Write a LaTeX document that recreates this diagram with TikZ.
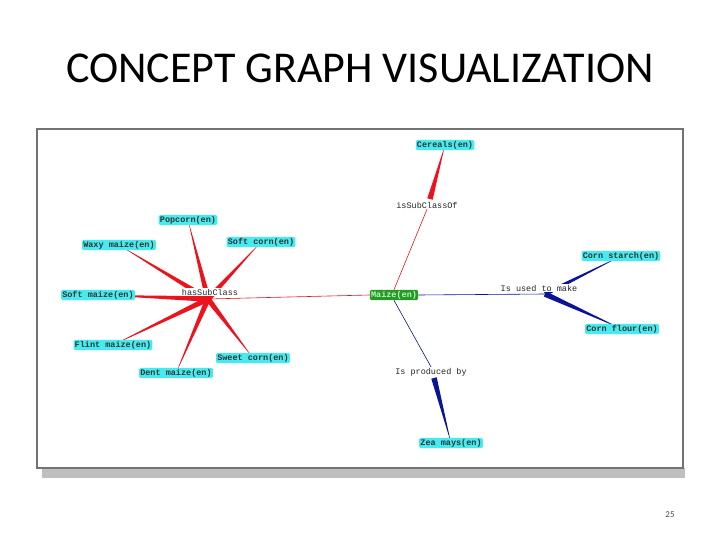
\documentclass[tikz,border=0pt]{standalone}
\usepackage{fontspec}
\setmainfont{Carlito}
\newfontfamily\monof{Liberation Mono}
\usetikzlibrary{calc,backgrounds}
\definecolor{leafc}{RGB}{70,235,240}
\definecolor{redc}{RGB}{235,20,30}
\definecolor{bluec}{RGB}{10,20,150}
\definecolor{maizec}{RGB}{40,150,40}
\newcommand\tapered[4]{\fill[#3] ($(#1.center)!#4!90:(#2.center)$) -- ($(#1.center)!#4!-90:(#2.center)$) -- (#2.center) -- cycle;}
\begin{document}
\begin{tikzpicture}[x=1pt,y=-1pt,
  leaf/.style={fill=leafc,rounded corners=1.5pt,inner sep=1.2pt,font=\monof\bfseries\fontsize{8.5}{9}\selectfont,text=black!80},
  rel/.style={fill=white,inner sep=1pt,font=\monof\fontsize{8.5}{10}\selectfont,text=black!85},
  thin/.style={line width=0.6pt}]
\useasboundingbox (0,0) rectangle (720,540);
\node[font=\fontsize{44}{48}\selectfont] (title) at (360,68) {CONCEPT GRAPH VISUALIZATION};
\node[font=\fontsize{9}{10}\selectfont,text=black!70] (pg) at (670,515) {25};

\node[fill=maizec,rounded corners=1.5pt,inner sep=1.2pt,font=\monof\bfseries\fontsize{8.5}{9}\selectfont,text=green!30] (maize) at (394,295) {Maize(en)};
\node[rel] (hsc) at (210,292) {hasSubClass};
\node[rel] (isc) at (427,205) {isSubClassOf};
\node[rel] (used) at (539,288) {Is used to make};
\node[rel] (prod) at (431,372) {Is produced by};
\node[leaf] (cer) at (445,145) {Cereals(en)};
\node[leaf] (cstarch) at (621,256) {Corn starch(en)};
\node[leaf] (cflour) at (622,329) {Corn flour(en)};
\node[leaf] (zea) at (451,443) {Zea mays(en)};
\node[leaf] (pop) at (188,220) {Popcorn(en)};
\node[leaf] (waxy) at (119,245) {Waxy maize(en)};
\node[leaf] (scorn) at (261,242) {Soft corn(en)};
\node[leaf] (smaize) at (98,295) {Soft maize(en)};
\node[leaf] (flint) at (113,345) {Flint maize(en)};
\node[leaf] (sweet) at (253,358) {Sweet corn(en)};
\node[leaf] (dent) at (176,373) {Dent maize(en)};
\coordinate (hub) at (208,299);
\coordinate (ihub) at (430,199);
\coordinate (uhub) at (545,294);
\coordinate (phub) at (434,378);

\begin{scope}[on background layer]
\fill[black!25] (42,468) rectangle (685,478);
\draw[black!55,line width=2pt,fill=white] (37,129) rectangle (683,468);
\draw[redc,thin] (maize.west) -- (hub);
\draw[redc,thin] (maize.north) -- (isc.south);
\draw[bluec,thin] (maize.east) -- (uhub);
\draw[bluec,thin] (maize.south) -- (prod.north);
\foreach \l in {pop,waxy,scorn,smaize,flint,sweet,dent}{\tapered{hub}{\l}{redc}{2.8pt}}
\tapered{ihub}{cer}{redc}{2.8pt}
\tapered{uhub}{cstarch}{bluec}{2.2pt}
\tapered{uhub}{cflour}{bluec}{2.8pt}
\tapered{phub}{zea}{bluec}{2.8pt}
\end{scope}
\end{tikzpicture}
\end{document}
